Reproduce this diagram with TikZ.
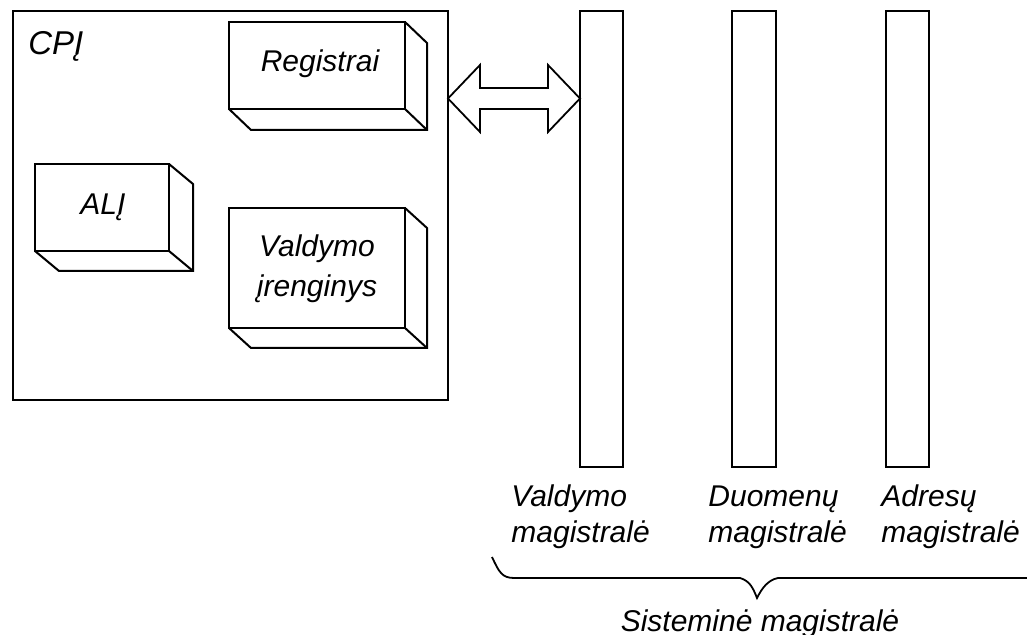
\documentclass[tikz,border=0pt]{standalone}
\usepackage{fontspec}
\setmainfont{Liberation Sans}
\usetikzlibrary{fit,calc}
\begin{document}
\begin{tikzpicture}[x=0.5pt,y=-0.5pt,
  frame/.style={draw, line width=1pt, inner sep=0pt, outer sep=0pt, fit={#1}},
  boxline/.style={line width=1pt, line join=miter},
  thinline/.style={line width=0.9pt},
  txt/.style={font=\fontsize{15}{20}\selectfont\itshape, inner sep=0pt, anchor=base},
  lbl/.style={font=\fontsize{15}{17.5}\selectfont\itshape, align=left, inner sep=0pt, anchor=base west}]
\useasboundingbox (0,0) rectangle (1027,635);

% extruded edges of a 3D box: front face node #1, depth (#2,#3)
\newcommand\extrudebox[3]{%
  \draw[boxline] (#1.north east) -- ++(#2,#3) -- ($(#1.south east)+(#2,#3)$)
    -- ($(#1.south west)+(#2,#3)$) -- (#1.south west);
  \draw[boxline] (#1.south east) -- ++(#2,#3);}

% processor
\node[frame={(13,11) (448,400)}] (cpu) {};
\node[txt, font=\fontsize{16.5}{20}\selectfont\itshape, anchor=base west] (cpulbl) at (28,55) {CPĮ};

\node[frame={(229,22) (405,109)}] (reg) {};
\extrudebox{reg}{22}{21}
\node[txt] (reglbl) at (320,72) {Registrai};

\node[frame={(35,164) (169,251)}] (alu) {};
\extrudebox{alu}{24}{20}
\node[txt] (alulbl) at (103,215) {ALĮ};

\node[frame={(229,208) (405,328)}] (ctl) {};
\extrudebox{ctl}{22}{20}
\node[txt] (ctllbl1) at (317,257) {Valdymo};
\node[txt] (ctllbl2) at (317,297) {įrenginys};

% buses
\node[frame={(580,11) (623,467)}] (bus1) {};
\node[frame={(732,11) (776,467)}] (bus2) {};
\node[frame={(886,11) (929,467)}] (bus3) {};

% two-way arrow between processor and control bus
\coordinate (aL) at (cpu.east |- 0,98.5);
\coordinate (aR) at (bus1.west |- aL);
\draw[thinline, line join=miter] (aL) -- ++(32,-33.5) -- ++(0,23) -- ($(aR)+(-32,-10.5)$)
  -- ++(0,-23) -- (aR) -- ++(-32,33.5) -- ++(0,-23) -- ($(aL)+(32,10.5)$)
  -- ++(0,23) -- cycle;

% bus labels (base anchor sits on the last line)
\node[lbl] (lbl1) at (511,542) {Valdymo\\magistralė};
\node[lbl] (lbl2) at (708,542) {Duomenų\\magistralė};
\node[lbl] (lbl3) at (881,542) {Adresų\\magistralė};

% brace
\draw[thinline] (492,557) .. controls (499,572) and (502,578) .. (514,578) -- (740,578)
  .. controls (750,581) and (753,588) .. (757,598)
  .. controls (762,588) and (768,580) .. (778,578) -- (1030,578);
\node[txt] (sys) at (760,631) {Sisteminė magistralė};
\end{tikzpicture}
\end{document}
